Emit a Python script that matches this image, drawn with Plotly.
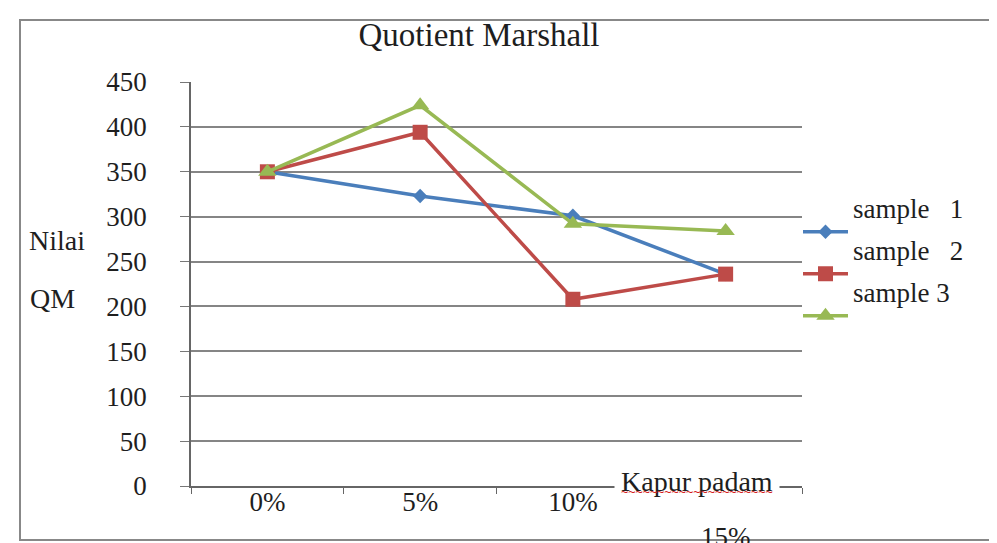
import plotly.graph_objects as go

categories = ["0%", "5%", "10%", "15%"]
tick_text = ["0%", "5%", "10%", "<br>15%"]
sample1 = [350, 323, 301, 236]
sample2 = [350, 394, 208, 236]
sample3 = [350, 424, 292, 284]
series_names = ["sample\u00a0\u00a0\u00a01", "sample\u00a0\u00a0\u00a02", "sample 3"]

FONT = "Liberation Serif, Times New Roman, serif"
TXT = "#1e1e1e"
colors = ["#4A7EBB", "#BE4B48", "#98B954"]
symbols = ["diamond", "square", "triangle-up"]
msizes = [11, 15, 16]

fig = go.Figure()
for name, vals, c, s, ms in zip(series_names, [sample1, sample2, sample3], colors, symbols, msizes):
    fig.add_trace(go.Scatter(
        x=categories, y=vals,
        name="<span style='font-size:27px'>" + name + "</span><br> ",
        mode="lines+markers",
        line=dict(color=c, width=3.5),
        marker=dict(symbol=s, size=ms, color=c),
    ))

# the page places the figure 8px in from the top-left corner
OFF = 8
W, H = 997 - OFF, 543 - OFF
L = 191 - OFF
T = 82 - OFF
B = H - (486 - OFF)
R = W - (802 - OFF)
pw = W - L - R
ph = H - T - B

def px(x):
    return (x - OFF - L) / pw

def py(y):
    return (H - B - (y - OFF)) / ph

fig.update_layout(
    width=W, height=H,
    margin=dict(l=L, r=R, t=T, b=B, autoexpand=False),
    paper_bgcolor="white", plot_bgcolor="white",
    font=dict(family=FONT, size=27, color=TXT),
    title=dict(text="Quotient Marshall", x=px(479), xref="paper", xanchor="center",
               y=1 - (34 - OFF) / H, yanchor="middle", font=dict(family=FONT, size=33, color=TXT)),
    showlegend=True,
    legend=dict(x=px(798), xanchor="left", y=py(196), yanchor="top", itemwidth=45,
                font=dict(family=FONT, size=15, color=TXT), valign="bottom",
                bgcolor="rgba(0,0,0,0)", tracegroupgap=0),
    xaxis=dict(type="category", categoryorder="array", categoryarray=categories,
               range=[-0.5, 3.5], tickvals=categories, ticktext=tick_text, automargin=False,
               showline=True, linecolor="#666", linewidth=1.5,
               ticks="outside", tickson="boundaries", ticklen=6, tickcolor="#666",
               ticklabelstandoff=-9,
               showgrid=False, tickfont=dict(family=FONT, size=27, color=TXT)),
    yaxis=dict(range=[0, 450], dtick=50, tick0=0, showgrid=True, gridcolor="#858585",
               gridwidth=1.7, showline=True, linecolor="#666", linewidth=1.5, automargin=False,
               ticks="outside", ticklen=9, tickcolor="#777", ticklabelstandoff=28,
               zeroline=False, tickfont=dict(family=FONT, size=27, color=TXT)),
)

fig.add_annotation(x=px(57), y=py(240), xref="paper", yref="paper", text="Nilai",
                   xanchor="center", yanchor="middle",
                   showarrow=False, font=dict(family=FONT, size=28, color=TXT))
fig.add_annotation(x=px(52), y=py(298), xref="paper", yref="paper", text="QM",
                   xanchor="center", yanchor="middle",
                   showarrow=False, font=dict(family=FONT, size=28, color=TXT))
fig.add_annotation(x=px(697), y=py(481), xref="paper", yref="paper",
                   text="Kapur padam", xanchor="center", yanchor="middle",
                   showarrow=False, bgcolor="white", borderpad=6,
                   font=dict(family=FONT, size=28, color=TXT))
fig.add_annotation(x=px(697), y=py(492), xref="paper", yref="paper",
                   text="~" * 21, showarrow=False, xanchor="center", yanchor="middle",
                   font=dict(family="DejaVu Sans Mono", size=12, color="#d42020"))

fig.add_shape(type="rect", xref="paper", yref="paper",
              x0=px(20), x1=px(1002), y0=py(540), y1=py(20),
              line=dict(color="#888", width=2), fillcolor="rgba(0,0,0,0)", layer="below")

fig.write_html("out.html")
